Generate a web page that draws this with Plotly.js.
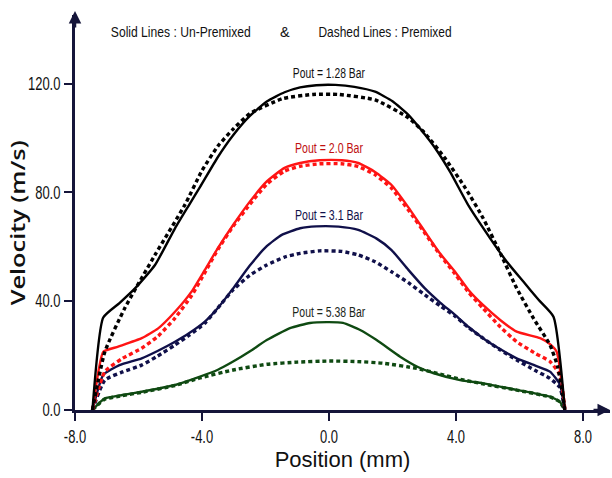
<!DOCTYPE html>
<html>
<head>
<meta charset="utf-8">
<script src="https://cdn.plot.ly/plotly-3.0.1.min.js"></script>
<style>html,body{margin:0;padding:0;background:#fff;}#chart{width:612px;height:478px;}</style>
</head>
<body>
<div id="chart"></div>
<script>
// Velocity profiles (Position in mm, Velocity in m/s)
const x128Solid = [-7.45,-7.11,-6.6,-6.11,-5.48,-4.85,-4.4,-4.06,-3.5,-3.02,-2.5,-1.96,-1.4,-0.91,-0.4,0.2,0.8,1.45,2.0,2.5,2.9,3.34,3.81,4.4,5.07,5.6,6.12,6.6,7.07,7.43];
const y128Solid = [0,34,39.3,44.7,53.3,66.8,75.5,82,93,101,108,113.4,116.8,118.6,119.4,119.5,118.8,117,113.5,108.5,103,96.3,87.6,75,63.2,54.5,47.2,40.5,34.3,0];
const x128Dash = [-7.45,-7.06,-6.43,-5.48,-4.54,-4.0,-3.5,-3.0,-2.49,-1.45,-0.5,0.3,1.45,2.5,3.0,3.65,4.3,4.85,5.4,5.91,6.45,6.96,7.2,7.43];
const y128Dash = [0,21.4,37.5,57,75.4,88,97,103.5,109,114.5,116,116,114,107.4,102,92.6,81.5,70.6,57.5,44.8,33.5,23.9,16,0];

const x20Solid = [-7.45,-7.25,-7.11,-6.64,-5.9,-5.38,-4.85,-4.33,-3.91,-3.5,-3.02,-2.5,-1.96,-1.4,-0.91,-0.3,0.4,0.92,1.45,1.97,2.5,3.02,3.5,3.97,4.4,4.85,5.4,5.91,6.65,6.96,7.17,7.43];
const y20Solid = [0,15,21.4,23.3,26.4,30,36.1,43.5,51.5,59.5,68,76.5,84,89,90.8,91.8,91.8,90.8,87.5,82.7,74.5,65.6,57.5,50.8,44,38.6,33,28.8,26.4,24.2,21.4,0];
const x20Dash = [-7.45,-7.06,-6.5,-5.9,-5.38,-4.85,-4.33,-3.91,-3.5,-3.02,-2.5,-1.96,-1.4,-0.91,-0.3,0.4,0.92,1.45,1.97,2.5,3.02,3.5,3.97,4.4,4.85,5.4,5.91,6.5,6.96,7.27,7.43];
const y20Dash = [0,14.1,19,22.7,27.2,33.8,42,50.5,59,67.5,75.5,83,87.8,89.6,90.5,90.5,89.5,86.5,81.5,73.5,65,57,50,43.2,37.4,30.5,25.1,20.8,17.8,12.9,0];

const x31Solid = [-7.45,-7.11,-6.6,-5.9,-5.4,-4.85,-4.4,-3.91,-3.5,-3.02,-2.5,-1.96,-1.5,-0.91,-0.4,0.3,0.92,1.5,1.97,2.5,3.02,3.5,3.97,4.4,4.85,5.4,5.91,6.5,6.96,7.27,7.43];
const y31Solid = [0,12.9,16.5,19,21.7,25.1,28.3,32.5,37.5,44.7,53,60.2,64.3,66.8,67.5,67.4,66.2,63,58.8,51.5,44.7,39.5,35,30.5,26.4,22.3,19,16.3,14.1,9.5,0];
const x31Dash = [-7.45,-7.06,-6.5,-5.9,-5.4,-4.85,-4.4,-3.91,-3.5,-3.02,-2.5,-1.96,-1.4,-0.91,-0.3,0.4,0.92,1.45,1.97,2.5,3.02,3.5,3.97,4.4,4.85,5.4,5.91,6.5,6.96,7.27,7.43];
const y31Dash = [0,11,14,16.5,19.8,23.9,27.5,31.9,37.5,44.2,49.5,53.3,56.2,57.6,58.5,58.3,57,54.5,50.8,46.8,42.3,38.3,34.5,30.2,26.4,22,18.4,14.5,11.6,8.3,0];

const x538Solid = [-7.45,-7.2,-7.06,-6.5,-5.9,-4.85,-4.06,-3.5,-3.02,-2.5,-1.96,-1.23,-0.6,0,0.44,0.98,1.5,2.24,2.8,3.28,4.13,4.85,5.91,6.96,7.27,7.43];
const y538Solid = [0,3,4.3,5.5,6.7,9.2,12.3,14.8,17.8,21.5,25.7,30.1,32,32.3,32,29.4,25.7,19.6,15.8,13.6,11,9.8,7.4,4.9,3,0];
const x538Dash = [-7.45,-7.2,-7.06,-6.5,-5.9,-4.85,-4.06,-3.02,-1.96,-1.0,0,0.9,1.7,2.76,3.5,4.13,4.85,5.91,6.96,7.27,7.43];
const y538Dash = [0,2.8,4.0,5.3,6.5,9.0,11.8,14.7,16.8,17.6,18,17.8,17.2,15.3,13.2,11.3,9.6,7.3,4.8,3,0];

const pressureLabels = ['Pout = 1.28 Bar','Pout = 2.0 Bar','Pout = 3.1 Bar','Pout = 5.38 Bar'];
const titleParts = ['Solid Lines : Un-Premixed', '&', 'Dashed Lines : Premixed'];
const xTicks = [-8,-4,0,4,8];
const yTicks = [0,40,80,120];

const cBlack = '#000000', cRed = '#ff1414', cNavy = '#10104a', cGreen = '#0f4a12';
const axisColor = '#15153a';
const sans = '"Liberation Sans", Arial, sans-serif';

function solid(x, y, c){ return {x:x, y:y, mode:'lines', line:{color:c, width:2.4, shape:'spline', smoothing:0.5}, showlegend:false, hoverinfo:'skip'}; }
function dashed(x, y, c){ return {x:x, y:y, mode:'lines', line:{color:c, width:3.4, dash:'4px,3px', shape:'spline', smoothing:0.5}, showlegend:false, hoverinfo:'skip'}; }

const data = [
  solid(x538Solid, y538Solid, cGreen), dashed(x538Dash, y538Dash, cGreen),
  solid(x31Solid, y31Solid, cNavy), dashed(x31Dash, y31Dash, cNavy),
  solid(x20Solid, y20Solid, cRed), dashed(x20Dash, y20Dash, cRed),
  solid(x128Solid, y128Solid, cBlack), dashed(x128Dash, y128Dash, cBlack)
];

const labelY = [124, 96.3, 71.7, 36];
const labelColors = ['#111111', '#c01010', '#10104a', '#1a261a'];
const titleCenters = [181, 285, 385];

const annotations = pressureLabels.map((t,i)=>({
  x: 0, y: labelY[i], xref:'x', yref:'y', xanchor:'center', yanchor:'middle', text: t, showarrow:false,
  font:{family:sans, size:14, color:labelColors[i]}
}));
titleParts.forEach((t,i)=>annotations.push(
  {xref:'paper', yref:'paper', x: (titleCenters[i]-75)/535, y: 1 + (15-32)/395, xanchor:'center', yanchor:'middle', text:t, showarrow:false, font:{family:sans, size:14.5, color:'#111'}}
));
annotations.push(
  {xref:'paper', yref:'paper', x: 0, y: (410-223)/395, xshift:-57, xanchor:'center', yanchor:'middle', textangle:-90, text:'Velocity (m/s)', showarrow:false, font:{family:'"Open Sans", sans-serif', size:20, color:'#111', weight:600}},
  {xref:'paper', yref:'paper', x: 1, y: 0, ax: -18, ay: 0, text:'', showarrow:true, arrowhead:2, arrowsize:1, arrowwidth:2.5, arrowcolor:axisColor},
  {xref:'paper', yref:'paper', x: 0, y: 1.01, ax: 0, ay: 18, text:'', showarrow:true, arrowhead:2, arrowsize:1, arrowwidth:2.5, arrowcolor:axisColor}
);

const layout = {
  width: 612, height: 478,
  margin: {l:75, r:2, t:15, b:68},
  paper_bgcolor:'#ffffff', plot_bgcolor:'#ffffff',
  showlegend:false,
  xaxis: {
    range:[-8, 8.85], tickvals:xTicks, ticktext:xTicks.map(v=>v.toFixed(1)),
    showgrid:false, zeroline:false, showline:true, linecolor:axisColor, linewidth:3,
    ticks:'outside', ticklen:8, tickwidth:2, tickcolor:axisColor,
    tickfont:{family:sans, size:18, color:'#111'},
    title:{text:'Position (mm)', font:{family:sans, size:22, color:'#111'}, standoff:6}
  },
  yaxis: {
    range:[0, 145.2], tickvals:yTicks, ticktext:yTicks.map(v=>v.toFixed(1)),
    showgrid:false, zeroline:false, showline:true, linecolor:axisColor, linewidth:3,
    ticks:'outside', ticklen:8, tickwidth:2, tickcolor:axisColor,
    tickfont:{family:sans, size:18, color:'#111'}
  },
  annotations: annotations
};

// target widths (px) of the condensed texts of the reference
const textWidths = {
  'Solid Lines : Un-Premixed': 140,
  'Dashed Lines : Premixed': 133,
  'Pout = 1.28 Bar': 72, 'Pout = 2.0 Bar': 68, 'Pout = 3.1 Bar': 68, 'Pout = 5.38 Bar': 73,
  'Velocity (m/s)': 165
};

Plotly.newPlot('chart', data, layout, {staticPlot:true, displayModeBar:false}).then(function(gd){
  gd.querySelectorAll('text').forEach(function(t){
    const s = t.textContent;
    if (textWidths[s]) {
      t.setAttribute('textLength', textWidths[s]);
      t.setAttribute('lengthAdjust', 'spacingAndGlyphs');
    }
  });
  gd.querySelectorAll('g.xtick text, g.ytick text').forEach(function(t){
    const w = t.getComputedTextLength();
    t.setAttribute('textLength', (w*0.72).toFixed(1));
    t.setAttribute('lengthAdjust', 'spacingAndGlyphs');
  });
});
</script>
</body>
</html>
